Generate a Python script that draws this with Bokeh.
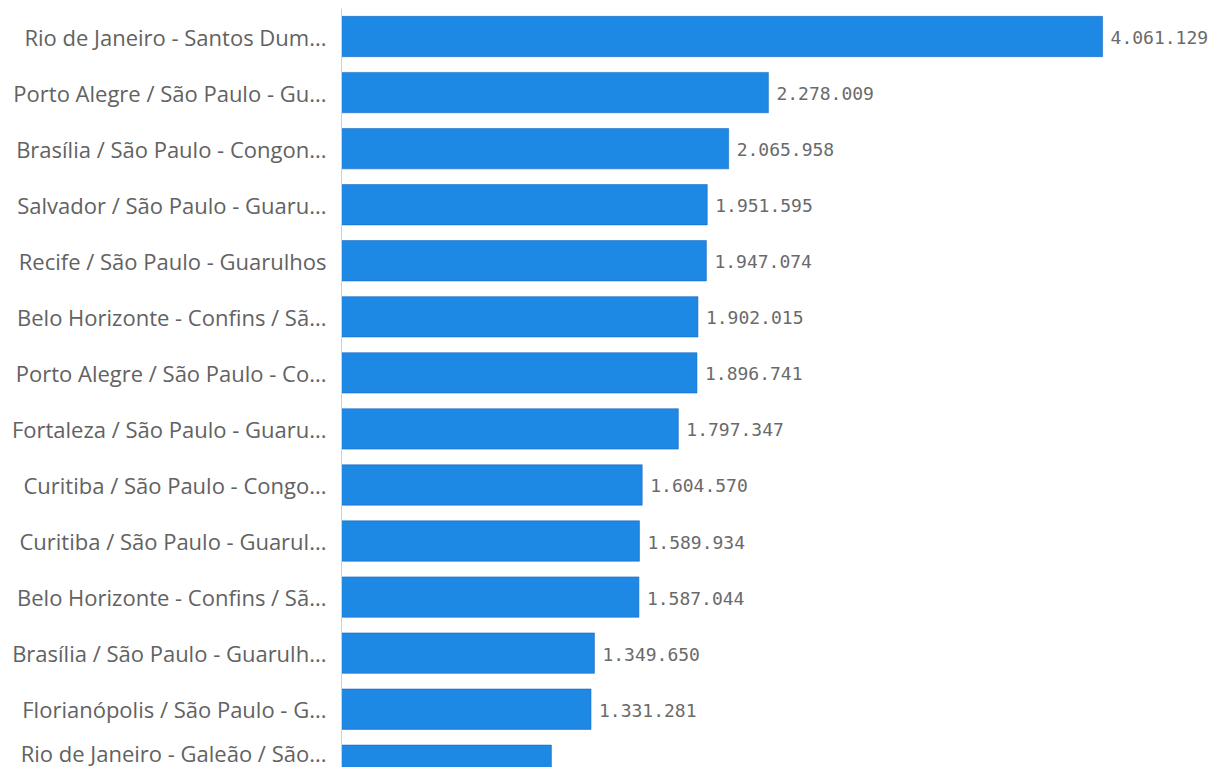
from bokeh.plotting import figure
from bokeh.models import ColumnDataSource, Range1d, FixedTicker, LabelSet
from bokeh.core.properties import value
from bokeh.embed import file_html
from bokeh.resources import INLINE

routes = [
    "Rio de Janeiro - Santos Dum...",
    "Porto Alegre / São Paulo - Gu...",
    "Brasília / São Paulo - Congon...",
    "Salvador / São Paulo - Guaru...",
    "Recife / São Paulo - Guarulhos",
    "Belo Horizonte - Confins / Sã...",
    "Porto Alegre / São Paulo - Co...",
    "Fortaleza / São Paulo - Guaru...",
    "Curitiba / São Paulo - Congo...",
    "Curitiba / São Paulo - Guarul...",
    "Belo Horizonte - Confins / Sã...",
    "Brasília / São Paulo - Guarulh...",
    "Florianópolis / São Paulo - G...",
    "Rio de Janeiro - Galeão / São...",
]
passengers = [
    4061129, 2278009, 2065958, 1951595, 1947074, 1902015, 1896741,
    1797347, 1604570, 1589934, 1587044, 1349650, 1331281, 1120000,
]
labelled_rows = 13  # value labels visible in the reference

pos = list(range(len(routes)))
value_text = [f"{v:,}".replace(",", ".") for v in passengers]
src = ColumnDataSource(dict(y=pos, v=passengers))
lab_src = ColumnDataSource(dict(y=pos[:labelled_rows], v=passengers[:labelled_rows],
                                t=value_text[:labelled_rows]))

p = figure(width=1213, height=767, output_backend="svg", toolbar_location=None,
           x_range=Range1d(0, 4653000), y_range=Range1d(13.04, -0.5),
           min_border_left=341, min_border_right=0, min_border_top=8, min_border_bottom=0)

p.hbar(y="y", right="v", left=0, height=0.72, source=src,
       fill_color="#1e88e5", line_color="#1565c0", line_width=1, line_alpha=0.55)

labels = LabelSet(x="v", y="y", text="t", source=lab_src, x_offset=8, y_offset=-1,
                  text_baseline="middle", text_align="left",
                  text_font=value("DejaVu Sans Mono"), text_font_size="18px",
                  text_color="#6a6a6a")
p.add_layout(labels)

p.xaxis.visible = False
p.xgrid.visible = False
p.ygrid.visible = False
p.outline_line_color = None

ya = p.yaxis[0]
ya.ticker = FixedTicker(ticks=pos)
ya.major_label_overrides = {i: routes[i] for i in pos}
ya.major_tick_line_color = None
ya.minor_tick_line_color = None
ya.axis_line_color = "#d0d0d0"
ya.axis_line_width = 1
ya.major_label_standoff = 9
ya.major_label_text_font = "Open Sans"
ya.major_label_text_font_size = "22px"
ya.major_label_text_color = "#626262"

open("out.html", "w").write(file_html(p, INLINE))
